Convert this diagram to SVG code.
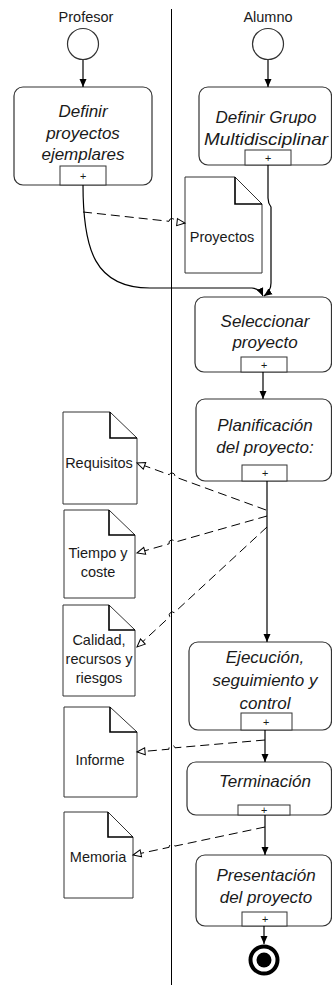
<svg xmlns="http://www.w3.org/2000/svg" width="332" height="985" viewBox="0 0 332 985">
<style>
text{font-family:"Liberation Sans",Arial,sans-serif;fill:#1a1a1a}
.task{font-size:17px;font-style:italic;text-anchor:middle}
.lbl{font-size:14.5px;text-anchor:middle}
.plus{font-size:11px;font-style:italic;text-anchor:middle}
.box{fill:#fff;stroke:#333;stroke-width:1.2}
.pbox{fill:#fff;stroke:#333;stroke-width:1}
.doc{fill:#fff;stroke:#333;stroke-width:1}
.fold{fill:none;stroke:#000;stroke-width:1.6}
.flow{fill:none;stroke:#000;stroke-width:1.2}
.assoc{fill:none;stroke:#000;stroke-width:1;stroke-dasharray:9 5}
.ev{fill:#fff;stroke:#333;stroke-width:1.2}
</style>
<defs>
<marker id="arr" markerWidth="9" markerHeight="8" refX="8" refY="4" orient="auto" markerUnits="userSpaceOnUse">
<path d="M0,0.5 L8,4 L0,7.5 z" fill="#000" stroke="none"/>
</marker>
<marker id="oarr" markerWidth="11" markerHeight="10" refX="9" refY="5" orient="auto" markerUnits="userSpaceOnUse">
<path d="M1,1.5 L9,5 L1,8.5 z" fill="#fff" stroke="#000" stroke-width="1" stroke-dasharray="none"/>
</marker>
</defs>

<g id="lanes">
<line x1="171.5" y1="9" x2="171.5" y2="985" stroke="#000" stroke-width="1"/>
<text class="lbl" x="86" y="22">Profesor</text>
<text class="lbl" x="268" y="22">Alumno</text>
</g>

<g id="start-profesor"><circle class="ev" cx="83" cy="44" r="15.5"/></g>
<g id="start-alumno"><circle class="ev" cx="268" cy="44" r="15.5"/></g>

<g id="definir-proyectos">
<rect class="box" x="14" y="87" width="138" height="98" rx="9"/>
<text class="task" x="83" y="117">Definir</text>
<text class="task" x="83" y="139">proyectos</text>
<text class="task" x="83" y="160">ejemplares</text>
<rect class="pbox" x="60" y="166" width="46" height="19"/>
<text class="plus" x="83" y="180">+</text>
</g>

<g id="definir-grupo">
<rect class="box" x="199" y="87" width="132.5" height="78" rx="9"/>
<text class="task" x="266" y="123">Definir Grupo</text>
<text class="task" x="266" y="145" textLength="124" lengthAdjust="spacingAndGlyphs">Multidisciplinar</text>
<rect class="pbox" x="245" y="150" width="46" height="15"/>
<text class="plus" x="268" y="162">+</text>
</g>

<g id="doc-proyectos">
<path class="doc" d="M185,177 L235,177 L262,204 L262,273 L185,273 z"/>
<path class="fold" d="M235,177 L235,204 L262,204"/>
<text class="lbl" x="222" y="242">Proyectos</text>
</g>

<g id="seleccionar">
<rect class="box" x="195" y="297" width="136.5" height="75" rx="9"/>
<text class="task" x="265" y="327">Seleccionar</text>
<text class="task" x="265" y="348">proyecto</text>
<rect class="pbox" x="241" y="357" width="46" height="15"/>
<text class="plus" x="264" y="369">+</text>
</g>

<g id="planificacion">
<rect class="box" x="196" y="399" width="135.5" height="82" rx="9"/>
<text class="task" x="265" y="431">Planificación</text>
<text class="task" x="265" y="453">del proyecto:</text>
<rect class="pbox" x="242" y="465" width="45" height="16"/>
<text class="plus" x="265" y="477">+</text>
</g>

<g id="doc-requisitos">
<path class="doc" d="M63,412 L110,412 L137,438 L137,504 L63,504 z"/>
<path class="fold" d="M110,412 L110,438 L137,438"/>
<text class="lbl" x="99" y="468">Requisitos</text>
</g>

<g id="doc-tiempo">
<path class="doc" d="M64,510 L109,510 L135,535 L135,598 L64,598 z"/>
<path class="fold" d="M109,510 L109,535 L135,535"/>
<text class="lbl" x="98" y="558">Tiempo y</text>
<text class="lbl" x="98" y="577">coste</text>
</g>

<g id="doc-calidad">
<path class="doc" d="M63,605 L109,605 L135,630 L135,696 L63,696 z"/>
<path class="fold" d="M109,605 L109,630 L135,630"/>
<text class="lbl" x="99" y="645">Calidad,</text>
<text class="lbl" x="99" y="664">recursos y</text>
<text class="lbl" x="99" y="683">riesgos</text>
</g>

<g id="ejecucion">
<rect class="box" x="189" y="642" width="142.5" height="88" rx="9"/>
<text class="task" x="265" y="663">Ejecución,</text>
<text class="task" x="265" y="686">seguimiento y</text>
<text class="task" x="265" y="709">control</text>
<rect class="pbox" x="241" y="713" width="51" height="17"/>
<text class="plus" x="266" y="726">+</text>
</g>

<g id="doc-informe">
<path class="doc" d="M64,707 L110,707 L137,732 L137,797 L64,797 z"/>
<path class="fold" d="M110,707 L110,732 L137,732"/>
<text class="lbl" x="100" y="765">Informe</text>
</g>

<g id="terminacion">
<rect class="box" x="187" y="762" width="144.5" height="53" rx="9"/>
<text class="task" x="265" y="787">Terminación</text>
<rect class="pbox" x="238" y="805" width="52" height="10"/>
<text class="plus" x="264" y="814">+</text>
</g>

<g id="doc-memoria">
<path class="doc" d="M64,812 L108,812 L133,837 L133,898 L64,898 z"/>
<path class="fold" d="M108,812 L108,837 L133,837"/>
<text class="lbl" x="98" y="862">Memoria</text>
</g>

<g id="presentacion">
<rect class="box" x="196" y="855" width="135.5" height="71" rx="9"/>
<text class="task" x="266" y="881">Presentación</text>
<text class="task" x="266" y="903">del proyecto</text>
<rect class="pbox" x="242" y="912" width="45" height="14"/>
<text class="plus" x="265" y="923">+</text>
</g>

<g id="end">
<circle cx="264" cy="960" r="13.5" fill="#fff" stroke="#000" stroke-width="4"/>
<circle cx="264" cy="960" r="7.5" fill="#000"/>
</g>

<g id="connectors">
<path class="flow" d="M83,60 L83,87" marker-end="url(#arr)"/>
<path class="flow" d="M268,60 L268,87" marker-end="url(#arr)"/>
<path class="flow" d="M83,185 C83,250 95,288 150,288 L252,288 Q260,289 263,296" marker-end="url(#arr)"/>
<path class="flow" d="M268,165 L268,198 Q268,203 271,207 L271,283 Q271,291 264,296" marker-end="url(#arr)"/>
<path class="flow" d="M263,372 L263,399" marker-end="url(#arr)"/>
<path class="flow" d="M267,481 L267,642" marker-end="url(#arr)"/>
<path class="flow" d="M265,730 L265,762" marker-end="url(#arr)"/>
<path class="flow" d="M265,815 L265,855" marker-end="url(#arr)"/>
<path class="flow" d="M264,926 L264,944" marker-end="url(#arr)"/>

<path class="assoc" d="M83,212 L169,221.3 A3,3 0 0 1 175,221.9 L185,223" marker-end="url(#oarr)"/>
<path class="assoc" d="M266,510 L174.8,476.8 A3,3 0 0 0 169.2,474.7 L137,463" marker-end="url(#oarr)"/>
<path class="assoc" d="M267,516 L174.9,542.2 A3,3 0 0 0 169.1,543.8 L137,553" marker-end="url(#oarr)"/>
<path class="assoc" d="M267,527 L174.2,612.7 A3,3 0 0 0 169.8,616.7 L137,647" marker-end="url(#oarr)"/>
<path class="assoc" d="M265,740 L175,747.8 A3,3 0 0 0 169,749.2 L137,752" marker-end="url(#oarr)"/>
<path class="assoc" d="M265,827 L174.9,846.1 A3,3 0 0 0 169.1,847.3 L133,855" marker-end="url(#oarr)"/>
</g>
</svg>
